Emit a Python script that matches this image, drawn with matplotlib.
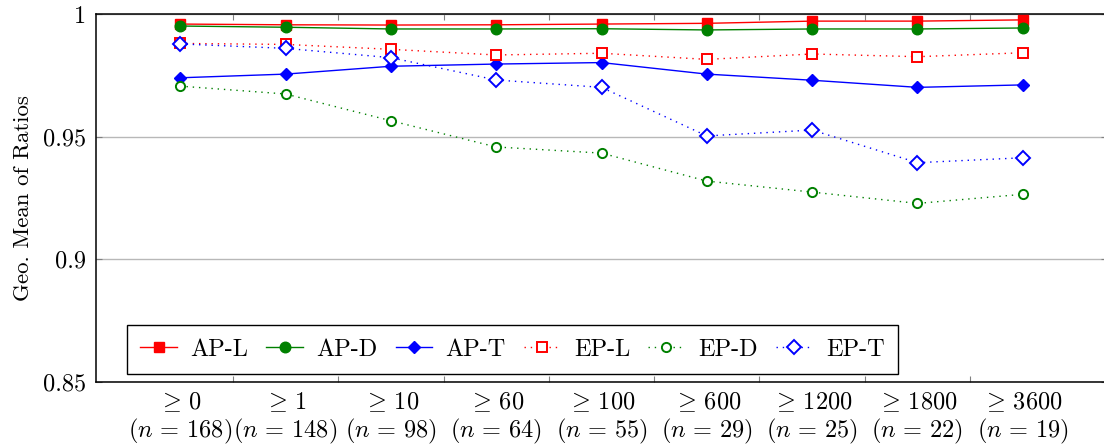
import matplotlib
matplotlib.use("Agg")
import matplotlib.pyplot as plt

# thresholds on the x axis and how many instances remain at each
thresholds = ["0", "1", "10", "60", "100", "600", "1200", "1800", "3600"]
counts = [168, 148, 98, 64, 55, 29, 25, 22, 19]

ap_l = [0.9959, 0.9956, 0.9955, 0.9956, 0.9959, 0.9962, 0.9971, 0.9971, 0.9976]
ap_d = [0.9951, 0.9946, 0.9939, 0.9939, 0.9940, 0.9935, 0.9939, 0.9939, 0.9943]
ap_t = [0.9740, 0.9755, 0.9787, 0.9796, 0.9802, 0.9755, 0.9730, 0.9701, 0.9711]
ep_l = [0.9880, 0.9876, 0.9856, 0.9833, 0.9840, 0.9815, 0.9837, 0.9826, 0.9842]
ep_d = [0.9706, 0.9674, 0.9565, 0.9458, 0.9433, 0.9319, 0.9274, 0.9228, 0.9265]
ep_t = [0.9878, 0.9860, 0.9822, 0.9731, 0.9701, 0.9503, 0.9527, 0.9394, 0.9414]

yticks = [0.85, 0.9, 0.95, 1.0]
ytick_labels = ["0.85", "0.9", "0.95", "1"]

RED, GREEN, BLUE = "#ff0000", "#008000", "#0000ff"
DOT = (0, (1, 3.5))

plt.rcParams["font.family"] = "cmr10"
plt.rcParams["mathtext.fontset"] = "cm"
plt.rcParams["axes.formatter.use_mathtext"] = True
plt.rcParams["font.size"] = 17.5

fig = plt.figure(figsize=(11.04, 4.47), dpi=100)
ax = fig.add_axes([96 / 1104, 65 / 447, 1011 / 1104, 368 / 447])

x = list(range(len(thresholds)))
series = [
    ("AP-L", ap_l, RED, "-", "s", 7.2, True),
    ("AP-D", ap_d, GREEN, "-", "o", 7.6, True),
    ("AP-T", ap_t, BLUE, "-", "D", 6.6, True),
    ("EP-L", ep_l, RED, DOT, "s", 6.8, False),
    ("EP-D", ep_d, GREEN, DOT, "o", 6.6, False),
    ("EP-T", ep_t, BLUE, DOT, "D", 7.2, False),
]
for name, vals, col, ls, mk, ms, filled in series:
    ax.plot(x, vals, linestyle=ls, color=col, lw=1.0, marker=mk, ms=ms,
            mfc=col if filled else "white", mec=col, mew=1.0 if filled else 1.4,
            label=name, zorder=3)

ax.set_xlim(-0.8, 8.8)
ax.set_ylim(0.85, 1.0)
ax.set_xticks(x)
ax.set_xticklabels([f"$\\geq\\,{t}$\n$(n\\,=\\,{c})$" for t, c in zip(thresholds, counts)],
                   linespacing=1.15)
ax.set_xticks([i + 0.5 for i in x[:-1]], minor=True)
ax.tick_params(axis="x", which="major", length=0, pad=6)
ax.tick_params(axis="x", which="minor", direction="in", length=4, width=0.8,
               color="#808080", top=True, bottom=True)
ax.set_yticks(yticks)
ax.set_yticklabels(ytick_labels)
ax.tick_params(axis="y", direction="in", length=4, width=0.8, color="#808080",
               left=True, right=True, pad=7)
ax.grid(axis="y", color="#b8b8b8", lw=1.0, zorder=0)
for s in ax.spines.values():
    s.set_linewidth(1.1)
ax.set_ylabel("Geo. Mean of Ratios", fontsize=16.5, labelpad=7)

leg = ax.legend(ncol=6, loc="lower left", bbox_to_anchor=(0.0307, 0.0217),
                borderaxespad=0, fancybox=False, edgecolor="black", framealpha=1,
                handlelength=1.5, handletextpad=0.55, columnspacing=0.75,
                borderpad=0.55, fontsize=17.5)
leg.get_frame().set_linewidth(1.0)

fig.savefig("out.png", dpi=100)
